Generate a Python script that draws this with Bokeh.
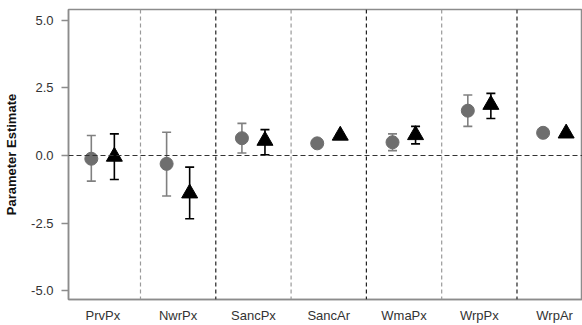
import numpy as np
from bokeh.plotting import figure
from bokeh.models import ColumnDataSource, Whisker, TeeHead, Span, FixedTicker, Range1d
from bokeh.embed import file_html
from bokeh.resources import INLINE

categories = ["PrvPx", "NwrPx", "SancPx", "SancAr", "WmaPx", "WrpPx", "WrpAr"]

circle_est = [-0.12, -0.31, 0.64, 0.45, 0.49, 1.66, 0.84]
circle_lo = [-0.95, -1.50, 0.09, 0.35, 0.18, 1.08, 0.74]
circle_hi = [0.74, 0.86, 1.19, 0.55, 0.80, 2.24, 0.94]

tri_est = [-0.04, -1.40, 0.55, 0.74, 0.76, 1.88, 0.82]
tri_lo = [-0.89, -2.34, 0.03, 0.70, 0.43, 1.37, 0.78]
tri_hi = [0.80, -0.43, 0.96, 0.78, 1.08, 2.30, 0.86]

y_ticks = [-5.0, -2.5, 0.0, 2.5, 5.0]

pos = np.arange(1, len(categories) + 1)
off = 0.153

csrc = ColumnDataSource(dict(x=pos - off, y=circle_est, lo=circle_lo, hi=circle_hi))
tsrc = ColumnDataSource(dict(x=pos + off, y=tri_est, lo=tri_lo, hi=tri_hi))

p = figure(width=582, height=325, output_backend="svg", toolbar_location=None,
           x_range=Range1d(0.544, 7.37), y_range=Range1d(-5.333, 5.407),
           min_border_left=68, min_border_right=0, min_border_top=9, min_border_bottom=0)
p.xgrid.visible = False
p.ygrid.visible = False
p.outline_line_color = "#8c8c8c"
p.outline_line_width = 1.5

FONT = "Liberation Sans"

# separators
for i, s in enumerate(pos[:-1] + 0.5):
    col = "#9a9a9a" if i % 2 == 0 else "#222222"
    p.add_layout(Span(location=s, dimension="height", line_color=col,
                      line_dash="4 3", line_width=1.2))
p.add_layout(Span(location=0, dimension="width", line_color="#333333",
                  line_dash="5 3", line_width=1.2))

gray_bar = "#808080"
wc = Whisker(source=csrc, base="x", lower="lo", upper="hi", dimension="height",
             line_color=gray_bar, line_width=1.6,
             upper_head=TeeHead(size=9, line_color=gray_bar, line_width=1.6),
             lower_head=TeeHead(size=9, line_color=gray_bar, line_width=1.6))
wt = Whisker(source=tsrc, base="x", lower="lo", upper="hi", dimension="height",
             line_color="black", line_width=1.6,
             upper_head=TeeHead(size=9, line_color="black", line_width=1.6),
             lower_head=TeeHead(size=9, line_color="black", line_width=1.6))
p.add_layout(wc)
p.add_layout(wt)

p.scatter("x", "y", source=csrc, marker="circle", size=13,
          fill_color="#6e6e6e", line_color="#6e6e6e")
p.scatter("x", "y", source=tsrc, marker="triangle", size=16,
          fill_color="black", line_color="black")

# y axis
p.yaxis.ticker = FixedTicker(ticks=y_ticks)
p.yaxis.minor_tick_line_color = None
p.yaxis.major_tick_in = 0
p.yaxis.major_tick_out = 7
p.yaxis.major_tick_line_color = "#8c8c8c"
p.yaxis.major_tick_line_width = 1.5
p.yaxis.axis_line_color = "#8c8c8c"
p.yaxis.axis_line_width = 1.5
p.yaxis.major_label_overrides = {t: f"{t:.1f}" for t in y_ticks}
p.yaxis.major_label_text_font = FONT
p.yaxis.major_label_text_font_size = "13px"
p.yaxis.major_label_text_color = "#333333"
p.yaxis.major_label_standoff = 8
p.yaxis.axis_label = "Parameter Estimate"
p.yaxis.axis_label_text_font = FONT
p.yaxis.axis_label_text_font_size = "13px"
p.yaxis.axis_label_text_font_style = "bold"
p.yaxis.axis_label_text_color = "#111111"
p.yaxis.axis_label_standoff = 9

# x axis
p.xaxis.ticker = FixedTicker(ticks=list(pos))
p.xaxis.major_label_overrides = {int(k): c for k, c in zip(pos, categories)}
p.xaxis.minor_tick_line_color = None
p.xaxis.major_tick_line_color = None
p.xaxis.major_tick_in = 0
p.xaxis.major_tick_out = 0
p.xaxis.axis_line_color = "#8c8c8c"
p.xaxis.axis_line_width = 1.5
p.xaxis.major_label_text_font = FONT
p.xaxis.major_label_text_font_size = "13px"
p.xaxis.major_label_text_color = "#333333"
p.xaxis.major_label_standoff = 8

open("out.html", "w").write(file_html(p, INLINE))
